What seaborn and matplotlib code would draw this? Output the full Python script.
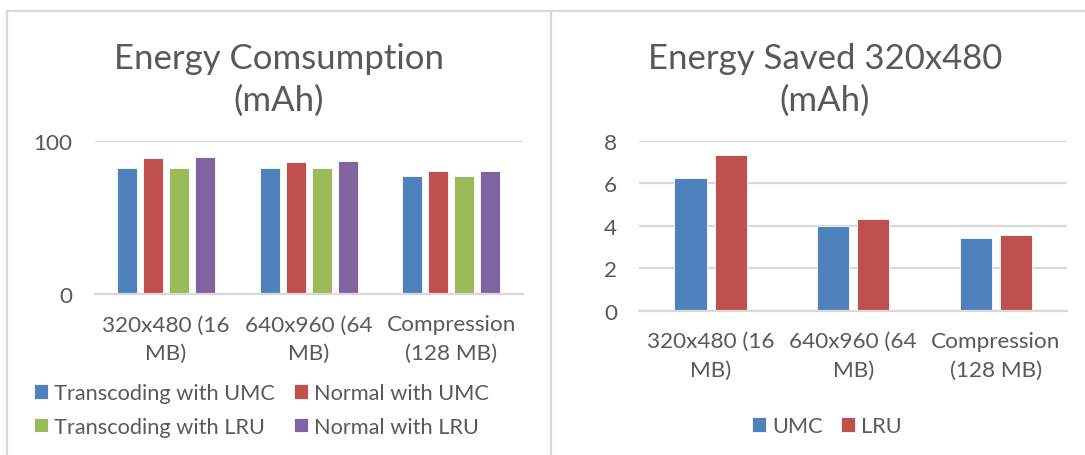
import matplotlib
matplotlib.use("Agg")
import matplotlib.pyplot as plt
from matplotlib.lines import Line2D
import pandas as pd
import seaborn as sns

# ---- data -------------------------------------------------------------
categories = ["320x480 (16\nMB)", "640x960 (64\nMB)", "Compression\n(128 MB)"]

consumption_series = ["Transcoding with UMC", "Normal with UMC",
                      "Transcoding with LRU", "Normal with LRU"]
transcoding_umc = [82.2, 82.2, 76.9]
normal_umc = [88.7, 86.3, 80.4]
transcoding_lru = [82.2, 82.2, 76.9]
normal_lru = [89.5, 86.7, 80.4]

saved_series = ["UMC", "LRU"]
saved_umc = [6.26, 4.00, 3.41]
saved_lru = [7.31, 4.31, 3.56]

consumption_ticks = [0, 100]
saved_ticks = [0, 2, 4, 6, 8]

# ---- styling ----------------------------------------------------------
sns.set_theme(style="white")
plt.rcParams["font.family"] = ["Lato", "DejaVu Sans"]

TEXT = "#595959"
GRID = "#D9D9D9"
palette4 = ["#4F81BD", "#C0504D", "#9BBB59", "#8064A2"]
palette2 = ["#4F81BD", "#C0504D"]
FS = 16.2
LEG_FS = 15.7

W, H = 1085, 456
fig = plt.figure(figsize=(W / 100, H / 100), dpi=100)
fig.patch.set_facecolor("white")


def px_axes(x0, x1, y_top, y_bot):
    return fig.add_axes([x0 / W, 1 - y_bot / H, (x1 - x0) / W, (y_bot - y_top) / H])


def long_frame(series_names, columns):
    rows = []
    for name, vals in zip(series_names, columns):
        for cat, v in zip(categories, vals):
            rows.append({"category": cat, "series": name, "value": v})
    return pd.DataFrame(rows)


def style_axes(ax, ticks):
    ax.set_ylim(ticks[0], ticks[-1])
    ax.set_yticks(ticks)
    ax.yaxis.grid(True, color=GRID, linewidth=1.6)
    ax.set_axisbelow(True)
    for side in ("top", "right", "left"):
        ax.spines[side].set_visible(False)
    ax.spines["bottom"].set_color(GRID)
    ax.spines["bottom"].set_linewidth(1.6)
    ax.tick_params(axis="both", length=0, labelsize=FS, colors=TEXT)
    ax.tick_params(axis="y", pad=16)
    ax.tick_params(axis="x", pad=14.5)
    ax.set_xlabel("")
    ax.set_ylabel("")
    for lbl in ax.get_xticklabels():
        lbl.set_horizontalalignment("center")
        lbl.set_multialignment("center")
        lbl.set_linespacing(1.55)


# ---- left: energy consumption ------------------------------------------
df_c = long_frame(consumption_series,
                  [transcoding_umc, normal_umc, transcoding_lru, normal_lru])
ax1 = px_axes(94.7, 522.7, 141.7, 295.3)
sns.barplot(data=df_c, x="category", y="value", hue="series",
            hue_order=consumption_series, palette=palette4, saturation=1,
            width=0.73, gap=0.23, edgecolor="white", linewidth=0.6,
            ax=ax1)
style_axes(ax1, consumption_ticks)
ax1.get_legend().remove()

h, l = ax1.get_legend_handles_labels()
order = [0, 2, 1, 3]
fig.legend([h[i] for i in order], [l[i] for i in order],
           loc="upper left", bbox_to_anchor=(34 / W, 1 - 384 / H),
           ncol=2, frameon=False, fontsize=LEG_FS, labelcolor=TEXT,
           handlelength=0.64, handleheight=0.64, handletextpad=0.3,
           columnspacing=0.85, labelspacing=0.62, borderpad=0,
           borderaxespad=0)

fig.text(278.5 / W, 1 - 43 / H, "Energy Comsumption\n(mAh)", ha="center",
         va="top", fontsize=25, color=TEXT, linespacing=1.38)

# ---- right: energy saved ----------------------------------------------
df_s = long_frame(saved_series, [saved_umc, saved_lru])
ax2 = px_axes(639.2, 1067.2, 141.7, 311.7)
sns.barplot(data=df_s, x="category", y="value", hue="series",
            hue_order=saved_series, palette=palette2, saturation=1,
            width=0.565, gap=0.2, edgecolor="white", linewidth=0.6,
            ax=ax2)
style_axes(ax2, saved_ticks)
ax2.get_legend().remove()

h2, l2 = ax2.get_legend_handles_labels()
fig.legend(h2, l2, loc="center", bbox_to_anchor=(827 / W, 1 - 427 / H),
           ncol=2, frameon=False, fontsize=LEG_FS, labelcolor=TEXT,
           handlelength=0.64, handleheight=0.64, handletextpad=0.3,
           columnspacing=0.8, borderpad=0, borderaxespad=0)

fig.text(825 / W, 1 - 43 / H, "Energy Saved 320x480\n(mAh)", ha="center",
         va="top", fontsize=25, color=TEXT, linespacing=1.38)

# ---- chart-area frames -------------------------------------------------
frame_kw = dict(color=GRID, linewidth=1.7, transform=fig.transFigure)
fig.add_artist(Line2D([7 / W, 1], [1 - 11.7 / H] * 2, **frame_kw))
fig.add_artist(Line2D([7 / W] * 2, [0, 1 - 11.7 / H], **frame_kw))
fig.add_artist(Line2D([551 / W] * 2, [0, 1 - 11.7 / H], **frame_kw))

fig.savefig("out.png", dpi=100, facecolor="white")
